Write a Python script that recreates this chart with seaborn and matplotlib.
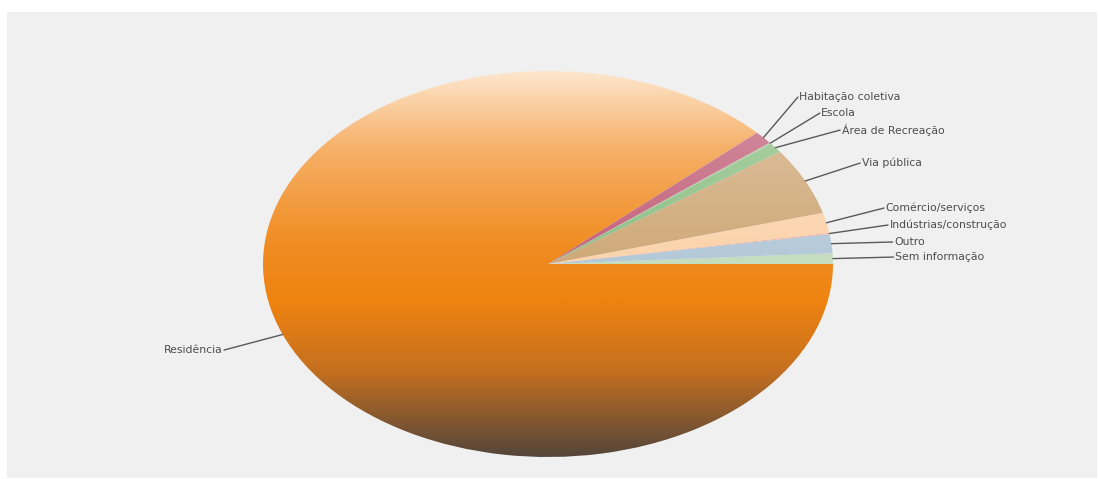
import numpy as np
import matplotlib
matplotlib.use("Agg")
import matplotlib.pyplot as plt
import seaborn as sns
from matplotlib.colors import LinearSegmentedColormap, to_rgb
from matplotlib.patches import Rectangle

# data (percent of cases by place of occurrence)
categories = ['Sem informação', 'Outro', 'Indústrias/construção', 'Comércio/serviços',
              'Via pública', 'Área de Recreação', 'Escola', 'Habitação coletiva', 'Residência']
values = [0.89, 1.58, 0.11, 1.69, 5.61, 0.83, 0.11, 1.08, 88.10]
colors = ['#c5dcbf', '#b4c9d8', '#e9b4aa', '#fbd3ab', '#cfa979', '#8cbf84',
          '#a9c49a', '#c2607a', '#ef8412']

# where the label text sits (pie data coords, radius 1 = slice edge)
label_pos = [(1.212, 0.036), (1.209, 0.114), (1.193, 0.202), (1.179, 0.290),
             (1.095, 0.523), (1.025, 0.694), (0.954, 0.782), (0.877, 0.865),
             (-1.137, -0.446)]

sns.set_theme(style="white")
plt.rcParams['font.family'] = ['DejaVu Sans']

fig = plt.figure(figsize=(10.99, 4.79), dpi=100, facecolor='white')
# gray chart area
fig.patches.append(Rectangle((7 / 1099, 1 / 479), 1090 / 1099, 466 / 479,
                             transform=fig.transFigure, facecolor='#f0f0f0',
                             edgecolor='none', zorder=-10))

ax = fig.add_axes([0, 0, 1, 1])
ax.patch.set_alpha(0)

wedges, _ = ax.pie(values, colors=colors, startangle=0, counterclock=True,
                   wedgeprops=dict(linewidth=0))
ax.set_aspect('auto')
ax.axis('off')


def mix(c, other, f):
    c = np.array(to_rgb(c))
    return tuple(c * (1 - f) + np.array(other) * f)


# vertical shading on the big slice
res = wedges[-1]
res.set_facecolor('none')
grad_cmap = LinearSegmentedColormap.from_list('res', [
    (0.0, '#fde6cc'), (0.2, '#f6b068'), (0.45, '#f08c22'), (0.6, '#ee8310'),
    (0.78, '#c46f20'), (1.0, '#54463a')])
grad = np.linspace(0, 1, 400).reshape(-1, 1)
im = ax.imshow(grad, cmap=grad_cmap, extent=(-1, 1, -1, 1), aspect='auto',
               origin='upper', zorder=1)
im.set_clip_path(res)

# lighter top on the small slices too
for w, c in zip(wedges[:-1], colors[:-1]):
    w.set_facecolor('none')
    cm = LinearSegmentedColormap.from_list('s', [mix(c, (1, 1, 1), 0.35), c])
    sim = ax.imshow(grad, cmap=cm, extent=(0, 1, 0, 1), aspect='auto',
                    origin='upper', zorder=2)
    sim.set_clip_path(w)

# leader lines and labels
for w, name, (lx, ly) in zip(wedges, categories, label_pos):
    mid = np.deg2rad((w.theta1 + w.theta2) / 2)
    ex, ey = np.cos(mid), np.sin(mid)
    ax.plot([ex, lx], [ey, ly], color='#595959', lw=1, zorder=3)
    if lx < 0:
        ax.text(lx - 0.005, ly, name, ha='right', va='center', fontsize=7.8,
                color='#4d4d4d')
    else:
        ax.text(lx + 0.005, ly, name, ha='left', va='center', fontsize=7.8,
                color='#4d4d4d')

# pie centre at pixel (548, 264), radii 285 x 193 px
ax.set_xlim(-548 / 285, (1099 - 548) / 285)
ax.set_ylim(-(479 - 264) / 193, 264 / 193)

fig.savefig('out.png', dpi=100, facecolor='white')
